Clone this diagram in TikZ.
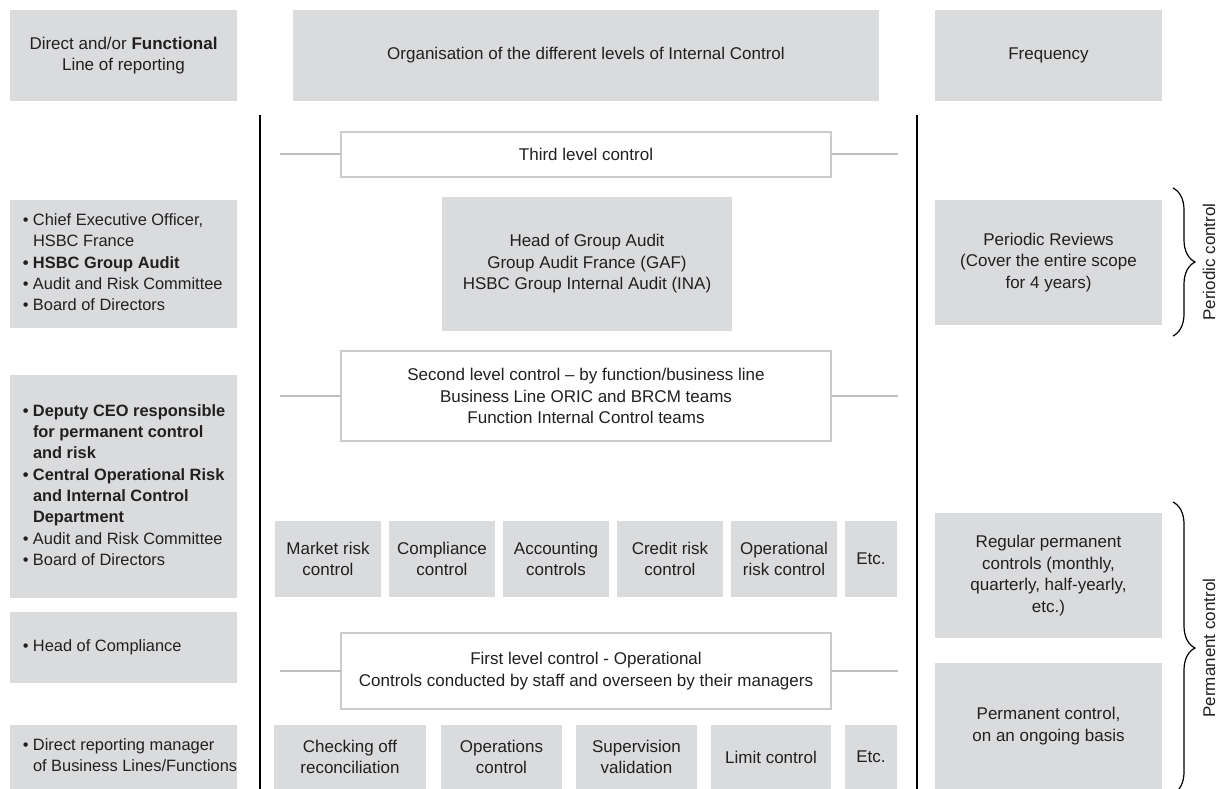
\documentclass[tikz,border=0pt]{standalone}
\usepackage{fontspec}
\setmainfont{Liberation Sans}
\usetikzlibrary{decorations.pathreplacing}

\definecolor{boxgray}{RGB}{218,219,221}
\definecolor{edgegray}{RGB}{204,204,204}
\definecolor{linkgray}{RGB}{190,190,190}
\definecolor{inkblack}{RGB}{35,31,32}

\newcommand{\bitem}{\makebox[10pt][l]{\textbullet}}
\newcommand{\bcont}{\hspace*{10pt}}
\newcommand{\leftlist}[1]{\makebox[201pt][l]{\fontsize{16.4}{21.3}\selectfont\begin{tabular}{@{}l@{}}#1\end{tabular}}}

\begin{document}
\begin{tikzpicture}[x=1pt, y=-1pt, font=\fontsize{17}{21.5}\selectfont, text=inkblack,
    graybox/.style={fill=boxgray, inner sep=0pt, outer sep=0pt, align=center, anchor=north west},
    ctrlbox/.style={draw=edgegray, line width=1.5pt, fill=white, inner sep=0pt, outer sep=0pt, align=center, anchor=north west},
    link/.style={draw=linkgray, line width=2pt},
    rail/.style={draw=black, line width=1.3pt},
    curly/.style={draw=black, line width=1.2pt, decorate, decoration={brace, amplitude=22pt}},
    sidelabel/.style={rotate=90, inner sep=0pt}]
        \clip (0,0) rectangle (1218,789);

        % headers
        \node[graybox, minimum width=227pt, minimum height=91pt] at (10,10)  (hdrline)  {Direct and/or \textbf{Functional}\\Line of reporting};
        \node[graybox, minimum width=586pt, minimum height=91pt] at (293,10) (hdrorg)   {Organisation of the different levels of Internal Control};
        \node[graybox, minimum width=227pt, minimum height=91pt] at (935,10) (hdrfreq)  {Frequency};

        % left column: lines of reporting
        \node[graybox, minimum width=227pt, minimum height=128pt] at (10,200) (rep3) {\leftlist{%
            \bitem Chief Executive Officer,\\
            \bcont HSBC France\\
            \textbf{\bitem HSBC Group Audit}\\
            \bitem Audit and Risk Committee\\
            \bitem Board of Directors}};
        \node[graybox, minimum width=227pt, minimum height=223pt] at (10,375) (rep2) {\leftlist{%
            \textbf{\bitem Deputy CEO responsible}\\
            \textbf{\bcont for permanent control}\\
            \textbf{\bcont and risk}\\
            \textbf{\bitem Central Operational Risk}\\
            \textbf{\bcont and Internal Control}\\
            \textbf{\bcont Department}\\
            \bitem Audit and Risk Committee\\
            \bitem Board of Directors}};
        \node[graybox, minimum width=227pt, minimum height=71pt] at (10,612) (repcomp) {\leftlist{\bitem Head of Compliance}};
        \node[graybox, minimum width=227pt, minimum height=64pt] at (10,725) (rep1) {\leftlist{%
            \bitem Direct reporting manager\\
            \bcont of Business Lines/Functions}};

        % draw rails
        \coordinate (railLtop) at (260,115);
        \coordinate (railLbot) at (260,789);
        \coordinate (railRtop) at (917,115);
        \coordinate (railRbot) at (917,789);
        \draw[rail] (railLtop) -- (railLbot);
        \draw[rail] (railRtop) -- (railRbot);

        % levels of control
        \node[ctrlbox, minimum width=490pt, minimum height=45pt] at (341,132) (third) {Third level control};
        \node[graybox, minimum width=290pt, minimum height=134pt] at (442,197) (audit) {Head of Group Audit\\Group Audit France (GAF)\\HSBC Group Internal Audit (INA)};
        \node[ctrlbox, minimum width=490pt, minimum height=90pt] at (341,351) (second) {Second level control -- by function/business line\\Business Line ORIC and BRCM teams\\Function Internal Control teams};

        \node[graybox, minimum width=106pt, minimum height=76pt] at (275,521) (market) {Market risk\\control};
        \node[graybox, minimum width=106pt, minimum height=76pt] at (389,521) (compl)  {Compliance\\control};
        \node[graybox, minimum width=106pt, minimum height=76pt] at (503,521) (account) {Accounting\\controls};
        \node[graybox, minimum width=106pt, minimum height=76pt] at (617,521) (credit) {Credit risk\\control};
        \node[graybox, minimum width=106pt, minimum height=76pt] at (731,521) (oprisk) {Operational\\risk control};
        \node[graybox, minimum width=52pt,  minimum height=76pt] at (845,521) (etcsec) {Etc.};

        \node[ctrlbox, minimum width=490pt, minimum height=76pt] at (341,633) (first) {First level control - Operational\\Controls conducted by staff and overseen by their managers};

        \node[graybox, minimum width=152pt, minimum height=64pt] at (274,725) (checking) {Checking off\\reconciliation};
        \node[graybox, minimum width=121pt, minimum height=64pt] at (441,725) (opsctrl)  {Operations\\control};
        \node[graybox, minimum width=121pt, minimum height=64pt] at (576,725) (supval)   {Supervision\\validation};
        \node[graybox, minimum width=120pt, minimum height=64pt] at (711,725) (limit)    {Limit control};
        \node[graybox, minimum width=52pt,  minimum height=64pt] at (845,725) (etcfirst) {Etc.};

        % level links
        \coordinate (thirdL)  at (280,154.5);
        \coordinate (thirdR)  at (898,154.5);
        \coordinate (secondL) at (280,396);
        \coordinate (secondR) at (898,396);
        \coordinate (firstL)  at (280,671);
        \coordinate (firstR)  at (898,671);
        \draw[link] (thirdL) -- (third.west);
        \draw[link] (third.east) -- (thirdR);
        \draw[link] (secondL) -- (second.west);
        \draw[link] (second.east) -- (secondR);
        \draw[link] (firstL) -- (first.west);
        \draw[link] (first.east) -- (firstR);

        % right column: frequency
        \node[graybox, minimum width=227pt, minimum height=125pt] at (935,200) (periodic) {Periodic Reviews\\(Cover the entire scope\\for 4 years)};
        \node[graybox, minimum width=227pt, minimum height=125pt] at (935,513) (regular)  {Regular permanent\\controls (monthly,\\quarterly, half-yearly,\\etc.)};
        \node[graybox, minimum width=227pt, minimum height=126pt] at (935,663) (ongoing)  {Permanent control,\\on an ongoing basis};

        % braces
        \coordinate (pertop)  at (1173,188);
        \coordinate (perbot)  at (1173,336);
        \coordinate (permtop) at (1173,502);
        \coordinate (permbot) at (1173,794);
        \draw[curly] (pertop) -- (perbot);
        \draw[curly] (permtop) -- (permbot);
        \node[sidelabel] at (1209,262) (perlabel)  {Periodic control};
        \node[sidelabel] at (1209,648) (permlabel) {Permanent control};

    \end{tikzpicture}
\end{document}
